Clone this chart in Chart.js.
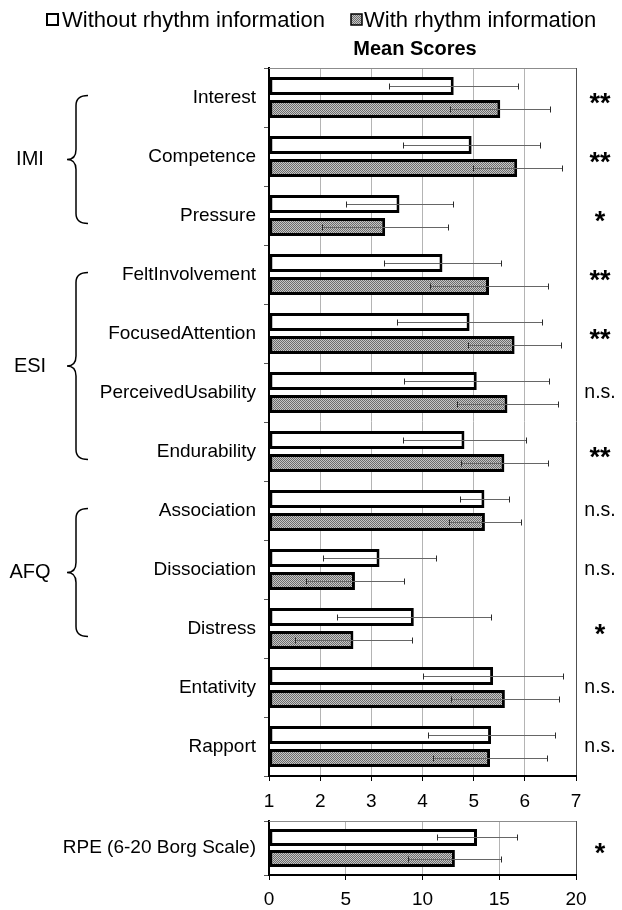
<!DOCTYPE html>
<html lang="en">
<head>
<meta charset="UTF-8">
<title>Mean Scores</title>
<script src="https://cdn.jsdelivr.net/npm/chart.js"></script>
<style>
    body {
        margin: 0;
        background: #fff;
        width: 622px;
        height: 910px;
        overflow: hidden;
        position: relative;
    }
    #mainChart { position: absolute; left: 0; top: 0; }
    #rpeChart { position: absolute; left: 0; top: 815px; }
</style>
</head>
<body>
<canvas id="mainChart" width="622" height="815"></canvas>
<canvas id="rpeChart" width="622" height="95"></canvas>
<script>
// ---- data ----
const categories = ['Interest', 'Competence', 'Pressure', 'FeltInvolvement', 'FocusedAttention',
    'PerceivedUsability', 'Endurability', 'Association', 'Dissociation', 'Distress', 'Entativity', 'Rapport'];
const withoutMean = [4.61, 4.96, 3.55, 4.39, 4.92, 5.06, 4.82, 5.21, 3.16, 3.83, 5.38, 5.34];
const withoutSD   = [1.26, 1.34, 1.04, 1.15, 1.41, 1.42, 1.20, 0.48, 1.11, 1.51, 1.37, 1.24];
const withMean    = [5.52, 5.85, 3.27, 5.30, 5.80, 5.66, 5.60, 5.22, 2.68, 2.65, 5.61, 5.32];
const withSD      = [0.98, 0.87, 1.23, 1.16, 0.91, 0.99, 0.85, 0.71, 0.96, 1.15, 1.05, 1.12];
const significance = ['**', '**', '*', '**', '**', 'n.s.', '**', 'n.s.', 'n.s.', '*', 'n.s.', 'n.s.'];
const groups = [
    { label: 'IMI', from: 0, to: 2 },
    { label: 'ESI', from: 3, to: 6 },
    { label: 'AFQ', from: 7, to: 9 }
];
const scoreTicks = [1, 7, 1]; // min, max, step

const rpeCategories = ['RPE (6-20 Borg Scale)'];
const rpeWithoutMean = [13.55];
const rpeWithoutSD   = [2.58];
const rpeWithMean    = [12.11];
const rpeWithSD      = [3.03];
const rpeSignificance = ['*'];
const rpeTicks = [0, 20, 5];

const seriesNames = ['Without rhythm information', 'With rhythm information'];

// ---- styling ----
const FONT = '"Liberation Sans", Arial, sans-serif';
Chart.defaults.font.family = FONT;
Chart.defaults.color = '#000';

function makeHatch(ctx) {
    const c = document.createElement('canvas');
    c.width = 2; c.height = 2;
    const g = c.getContext('2d');
    g.fillStyle = '#c6c6c6';
    g.fillRect(0, 0, 2, 2);
    g.fillStyle = '#6c6c6c';
    g.fillRect(0, 0, 1, 1);
    g.fillRect(1, 1, 1, 1);
    return ctx.createPattern(c, 'repeat');
}

// error bars drawn on top of the bars
const errorBars = {
    id: 'errorBars',
    afterDatasetsDraw(chart) {
        const ctx = chart.ctx;
        const xs = chart.scales.x;
        ctx.save();
        chart.data.datasets.forEach((ds, i) => {
            const meta = chart.getDatasetMeta(i);
            meta.data.forEach((bar, j) => {
                const m = ds.data[j], e = ds.errors[j];
                const x1 = Math.round(xs.getPixelForValue(m - e)) + 0.5;
                const x2 = Math.round(xs.getPixelForValue(m + e)) + 0.5;
                const y = Math.round(bar.y) + 0.5;
                ctx.strokeStyle = '#666';
                ctx.lineWidth = 1.2;
                ctx.beginPath();
                ctx.moveTo(x1, y); ctx.lineTo(x2, y);
                ctx.stroke();
                ctx.strokeStyle = '#2a2a2a';
                ctx.lineWidth = 1;
                ctx.beginPath();
                ctx.moveTo(x1, y - 3); ctx.lineTo(x1, y + 3);
                ctx.moveTo(x2, y - 3); ctx.lineTo(x2, y + 3);
                ctx.stroke();
            });
        });
        ctx.restore();
    }
};

// top frame line + significance markers
function drawSig(chart, labels) {
    const ctx = chart.ctx;
    const a = chart.chartArea;
    const ys = chart.scales.y;
    ctx.save();
    ctx.strokeStyle = '#8c8c8c';
    ctx.lineWidth = 1;
    ctx.beginPath();
    ctx.moveTo(a.left, a.top + 0.5);
    ctx.lineTo(a.right, a.top + 0.5);
    ctx.stroke();
    ctx.fillStyle = '#000';
    ctx.textAlign = 'center';
    labels.forEach((s, i) => {
        const y = ys.getPixelForValue(i);
        if (s === 'n.s.') {
            ctx.font = '19.5px ' + FONT;
            ctx.textBaseline = 'middle';
            ctx.fillText(s, 600, y);
        } else {
            ctx.font = 'bold 27px ' + FONT;
            ctx.textBaseline = 'alphabetic';
            ctx.fillText(s, 600, y + 14);
        }
    });
    ctx.restore();
}

function drawBrace(ctx, y1, y2) {
    const ym = (y1 + y2) / 2;
    const xTip = 67, xSpine = 76, xEnd = 88, r = 10;
    ctx.beginPath();
    ctx.moveTo(xEnd, y1);
    ctx.quadraticCurveTo(xSpine, y1, xSpine, y1 + r);
    ctx.lineTo(xSpine, ym - r);
    ctx.quadraticCurveTo(xSpine, ym, xTip, ym);
    ctx.quadraticCurveTo(xSpine, ym, xSpine, ym + r);
    ctx.lineTo(xSpine, y2 - r);
    ctx.quadraticCurveTo(xSpine, y2, xEnd, y2);
    ctx.stroke();
}

const decorations = {
    id: 'decorations',
    afterDraw(chart) {
        const ctx = chart.ctx;
        const ys = chart.scales.y;
        drawSig(chart, significance);
        ctx.save();
        // legend
        ctx.lineWidth = 2;
        ctx.strokeStyle = '#000';
        ctx.fillStyle = '#fff';
        ctx.fillRect(47, 14, 11, 11);
        ctx.strokeRect(47, 14, 11, 11);
        ctx.fillStyle = hatch;
        ctx.fillRect(351, 14, 11, 11);
        ctx.lineWidth = 1.5;
        ctx.strokeRect(351, 14, 11, 11);
        ctx.fillStyle = '#000';
        ctx.font = '22px ' + FONT;
        ctx.textBaseline = 'alphabetic';
        ctx.textAlign = 'left';
        ctx.fillText(seriesNames[0], 62, 27);
        ctx.fillText(seriesNames[1], 364, 27);
        // title
        ctx.font = 'bold 20px ' + FONT;
        ctx.textAlign = 'center';
        ctx.fillText('Mean Scores', 415, 55);
        // group labels + braces
        ctx.lineWidth = 1.5;
        groups.forEach(g => {
            const y1 = ys.getPixelForValue(g.from) - 2;
            const y2 = ys.getPixelForValue(g.to) + 8;
            drawBrace(ctx, y1, y2);
            ctx.font = '20px ' + FONT;
            ctx.textBaseline = 'middle';
            ctx.textAlign = 'center';
            ctx.fillText(g.label, 30, (y1 + y2) / 2);
        });
        ctx.restore();
    }
};

const rpeDecorations = {
    id: 'rpeDecorations',
    afterDraw(chart) { drawSig(chart, rpeSignificance); }
};

const mainCtx = document.getElementById('mainChart').getContext('2d');
const hatch = makeHatch(mainCtx);

function barSet(label, data, errors, fill, base, barPct) {
    return {
        label: label,
        data: data,
        errors: errors,
        base: base,
        backgroundColor: fill,
        borderColor: '#000',
        borderWidth: 3,
        borderSkipped: false,
        categoryPercentage: 0.78,
        barPercentage: barPct
    };
}

function axes(ticks, xHeight, labelPad) {
    return {
        x: {
            min: ticks[0], max: ticks[1],
            ticks: { stepSize: ticks[2], font: { size: 19 }, padding: labelPad },
            grid: {
                color: c => (c.tick && c.tick.value === ticks[1]) ? '#505050' : '#b4b4b4',
                tickColor: '#000',
                tickLength: 5
            },
            border: { color: '#000', width: 2 },
            afterFit: s => { s.height = xHeight; s.paddingLeft = 0; s.paddingRight = 0; }
        },
        y: {
            ticks: { font: { size: 19 }, padding: 8, autoSkip: false },
            grid: { drawOnChartArea: false, tickLength: 5, color: '#555' },
            border: { color: '#000', width: 2 },
            afterFit: s => { s.width = 269; s.paddingTop = 0; s.paddingBottom = 0; }
        }
    };
}

new Chart(mainCtx, {
    type: 'bar',
    data: {
        labels: categories,
        datasets: [
            barSet(seriesNames[0], withoutMean, withoutSD, '#fff', scoreTicks[0], 0.78),
            barSet(seriesNames[1], withMean, withSD, hatch, scoreTicks[0], 0.78)
        ]
    },
    options: {
        indexAxis: 'y',
        responsive: false,
        animation: false,
        layout: { padding: { top: 68, right: 46, left: 0, bottom: 0 } },
        plugins: { legend: { display: false }, title: { display: false }, tooltip: { enabled: false } },
        scales: axes(scoreTicks, 39, 9)
    },
    plugins: [errorBars, decorations]
});

const rpeCtx = document.getElementById('rpeChart').getContext('2d');
new Chart(rpeCtx, {
    type: 'bar',
    data: {
        labels: rpeCategories,
        datasets: [
            barSet(seriesNames[0], rpeWithoutMean, rpeWithoutSD, '#fff', rpeTicks[0], 0.81),
            barSet(seriesNames[1], rpeWithMean, rpeWithSD, makeHatch(rpeCtx), rpeTicks[0], 0.81)
        ]
    },
    options: {
        indexAxis: 'y',
        responsive: false,
        animation: false,
        layout: { padding: { top: 6, right: 46, left: 0, bottom: 0 } },
        plugins: { legend: { display: false }, title: { display: false }, tooltip: { enabled: false } },
        scales: axes(rpeTicks, 35, 8)
    },
    plugins: [errorBars, rpeDecorations]
});
</script>
</body>
</html>
